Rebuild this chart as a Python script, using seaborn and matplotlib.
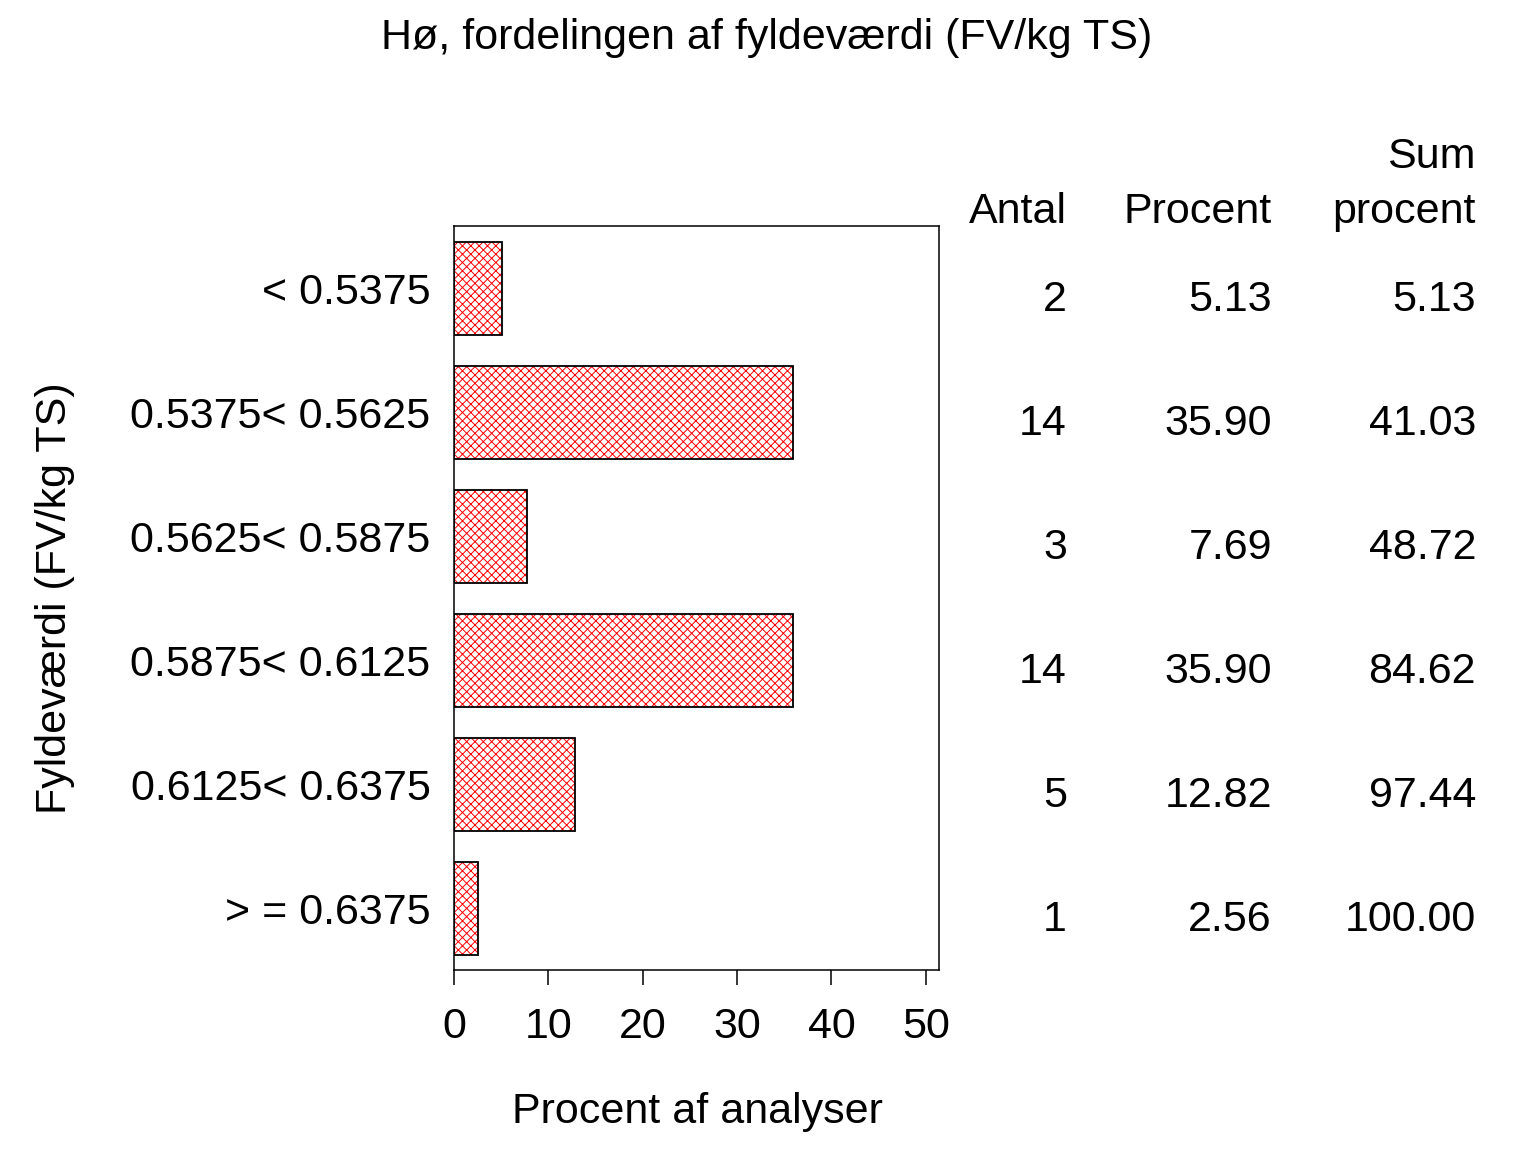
import matplotlib
matplotlib.use("Agg")
import matplotlib.pyplot as plt
import matplotlib.transforms as mtransforms
import seaborn as sns
import pandas as pd

categories = ["< 0.5375", "0.5375< 0.5625", "0.5625< 0.5875",
              "0.5875< 0.6125", "0.6125< 0.6375", "> = 0.6375"]
antal = [2, 14, 3, 14, 5, 1]
procent = [5.13, 35.90, 7.69, 35.90, 12.82, 2.56]
sum_procent = [5.13, 41.03, 48.72, 84.62, 97.44, 100.00]
x_ticks = [0, 10, 20, 30, 40, 50]

title = "Hø, fordelingen af fyldeværdi (FV/kg TS)"
xlabel = "Procent af analyser"
ylabel = "Fyldeværdi (FV/kg TS)"

sns.set_style("white")
plt.rcParams["font.family"] = ["Liberation Sans", "DejaVu Sans"]
plt.rcParams["hatch.linewidth"] = 0.7
plt.rcParams["text.color"] = "black"
plt.rcParams["axes.labelcolor"] = "black"
plt.rcParams["xtick.color"] = "black"
plt.rcParams["ytick.color"] = "black"
FS = 31

df = pd.DataFrame({"cat": categories, "pct": procent})

fig = plt.figure(figsize=(15.36, 11.52), dpi=100)
ax = fig.add_axes([454 / 1536, 1 - 970 / 1152, (939 - 454) / 1536, (970 - 226) / 1152])

sns.barplot(data=df, x="pct", y="cat", order=categories, ax=ax,
            color="white", edgecolor="red", linewidth=0, width=0.75,
            hatch="xxxx", saturation=1)
sns.barplot(data=df, x="pct", y="cat", order=categories, ax=ax,
            fill=False, edgecolor="black", linewidth=1.3, width=0.75)

ax.set_xlim(0, 51.4)
ax.set_ylim(5.5, -0.5)
ax.set_xticks(x_ticks)
ax.set_xticklabels([str(t) for t in x_ticks], fontsize=FS)
ax.set_yticks(range(len(categories)))
ax.set_yticklabels(categories, fontsize=FS)
ax.tick_params(axis="x", bottom=True, direction="out", length=11, width=1.1,
               pad=16, colors="black")
ax.tick_params(axis="y", left=False, length=0, pad=17, colors="black")
for s in ax.spines.values():
    s.set_linewidth(1.1)
    s.set_color("black")
ax.set_xlabel("")
ax.set_ylabel("")

fig.text(697 / 1536, 1 - 1112 / 1152, xlabel, fontsize=FS, ha="center", va="center", color="black")
fig.text(55 / 1536, 1 - 598 / 1152, ylabel, fontsize=FS, ha="center", va="center",
         rotation=90, color="black")
fig.text(767 / 1536, 1 - 38 / 1152, title, fontsize=FS, ha="center", va="center", color="black")

# table at right
cols_x = [1067 / 1536, 1272 / 1536, 1476 / 1536]
trans = mtransforms.blended_transform_factory(fig.transFigure, ax.transData)
for i in range(len(categories)):
    vals = [str(antal[i]), f"{procent[i]:.2f}", f"{sum_procent[i]:.2f}"]
    for cx, v in zip(cols_x, vals):
        ax.text(cx, i + 0.1, v, transform=trans, ha="right", va="center",
                fontsize=FS, clip_on=False, color="black")

hy = 1 - 212 / 1152
fig.text(cols_x[0], hy, "Antal", fontsize=FS, ha="right", va="center", color="black")
fig.text(cols_x[1], hy, "Procent", fontsize=FS, ha="right", va="center", color="black")
fig.text(cols_x[2], hy, "procent", fontsize=FS, ha="right", va="center", color="black")
fig.text(cols_x[2], 1 - 157 / 1152, "Sum", fontsize=FS, ha="right", va="center", color="black")

fig.savefig("out.png", dpi=100)
